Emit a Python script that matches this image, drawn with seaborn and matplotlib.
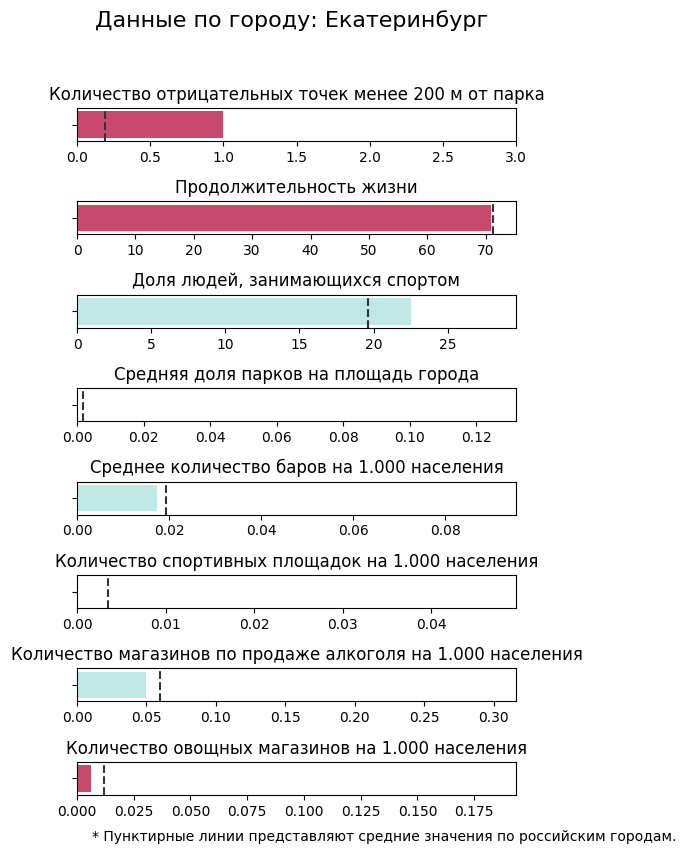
"""Bar panels comparing one city against the average over Russian cities."""

import matplotlib
matplotlib.use("Agg")
import matplotlib.pyplot as plt
import pandas as pd
import seaborn as sns

CITY = "Екатеринбург"

titles = [
    "Количество отрицательных точек менее 200 м от парка",
    "Продолжительность жизни",
    "Доля людей, занимающихся спортом",
    "Средняя доля парков на площадь города",
    "Среднее количество баров на 1.000 населения",
    "Количество спортивных площадок на 1.000 населения",
    "Количество магазинов по продаже алкоголя на 1.000 населения",
    "Количество овощных магазинов на 1.000 населения",
]
city_values = [1.0, 71.0, 22.5, 0.0, 0.0173, 0.0, 0.0496, 0.006]
mean_values = [0.19, 71.2, 19.6, 0.0019, 0.0193, 0.0035, 0.060, 0.0119]
x_limits = [3.0, 75.2, 29.6, 0.132, 0.0954, 0.0496, 0.316, 0.1934]
# city worse than average -> red, better -> teal
is_bad = [True, True, False, False, False, False, False, True]

RED = "#c8496b"
TEAL = "#c0e8e4"

fig = plt.figure(figsize=(6.86, 8.55), dpi=100)
W, H = 686, 855
left_px, right_px = 77, 516
height_px = 33
top0, step = 108, 93.4

for i, title in enumerate(titles):
    top = top0 + step * i
    ax = fig.add_axes([left_px / W, 1 - (top + height_px) / H,
                       (right_px - left_px) / W, height_px / H])
    df = pd.DataFrame({"city": [CITY], "value": [city_values[i]]})
    sns.barplot(data=df, x="value", y="city", color=RED if is_bad[i] else TEAL,
                saturation=1, width=0.8, ax=ax)
    ax.axvline(mean_values[i], color="#333333", linestyle="--", linewidth=1.5)
    ax.set_xlim(0, x_limits[i])
    ax.set_ylim(0.5, -0.5)
    ax.set_yticklabels([""])
    ax.set_xlabel("")
    ax.set_ylabel("")
    ax.set_title(title, fontsize=12)

fig.text(292 / W, 1 - 21 / H, f"Данные по городу: {CITY}",
         ha="center", va="center", fontsize=16)
fig.text(92 / W, 1 - 837 / H,
         "* Пунктирные линии представляют средние значения по российским городам.",
         ha="left", va="center", fontsize=10)

fig.savefig("out.png", dpi=100)
